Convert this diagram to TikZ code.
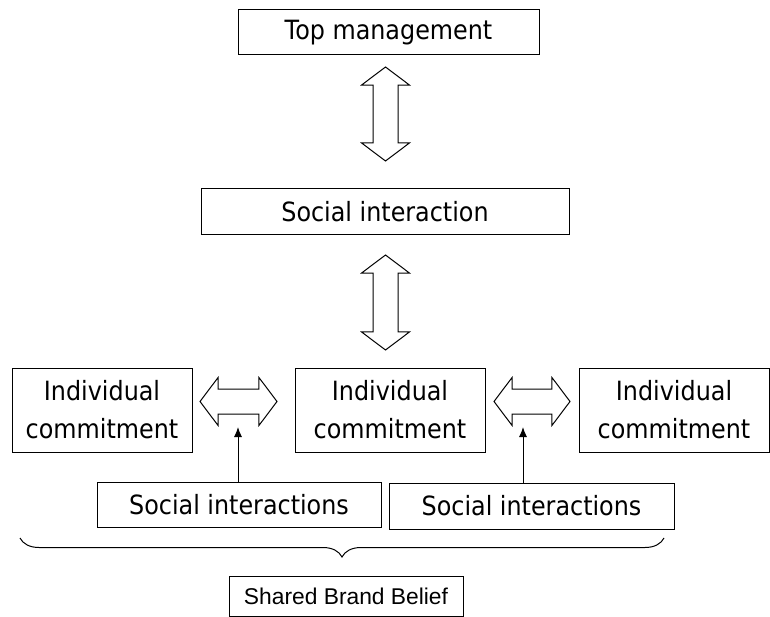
\documentclass[tikz,border=0pt]{standalone}
\usepackage{fontspec}
\setmainfont{DejaVu Sans}[FakeStretch=0.9]
\newfontfamily\beliefface{Liberation Sans}
\usetikzlibrary{shapes.arrows,decorations.pathreplacing,arrows.meta}

\begin{document}
\begin{tikzpicture}[x=1pt,y=-1pt,every path/.style={>={Latex[length=10pt,width=8pt]},line width=1pt},
  box/.style={draw,rectangle,inner sep=0pt,align=center,font=\fontsize{26.5}{38}\selectfont},
  blockarrow/.style={draw,double arrow,inner xsep=0pt,inner ysep=12pt,double arrow head extend=11.5pt,double arrow tip angle=106}]
\useasboundingbox (0,0) rectangle (770,617);
\node[box,minimum width=301pt,minimum height=45pt] (top)  at (388.5,32.5) {Top management};
\node[box,minimum width=368pt,minimum height=46pt] (soc)  at (385,212)    {Social interaction};
\node[box,minimum width=180pt,minimum height=84pt] (ic1)  at (102,410)    {Individual\\commitment};
\node[box,minimum width=190pt,minimum height=84pt] (ic2)  at (390,410)    {Individual\\commitment};
\node[box,minimum width=190pt,minimum height=84pt] (ic3)  at (674,410)    {Individual\\commitment};
\node[box,minimum width=284pt,minimum height=45pt] (si1)  at (239,504.5)  {Social interactions};
\node[box,minimum width=285pt,minimum height=46pt] (si2)  at (531.5,506)  {Social interactions};
\node[box,minimum width=234pt,minimum height=40pt,font=\beliefface\fontsize{22.8}{26}\selectfont] (sbb) at (346,596) {Shared Brand Belief};
\node[blockarrow,rotate=90,minimum height=94pt] (va1) at (385.5,114)   {};
\node[blockarrow,rotate=90,minimum height=95pt] (va2) at (385.5,302.5) {};
\node[blockarrow,minimum height=77pt]           (ha1) at (238.5,401.5) {};
\node[blockarrow,minimum height=76pt]           (ha2) at (532,401.5)   {};
\coordinate (t1) at (238,427);
\coordinate (t2) at (523,427);
\coordinate (bl) at (20,538);
\coordinate (br) at (664,538);
\draw[->] (t1 |- si1.north) -- (t1);
\draw[->] (t2 |- si2.north) -- (t2);
\draw[decorate,decoration={brace,amplitude=19pt}] (br) -- (bl);
\end{tikzpicture}
\end{document}
